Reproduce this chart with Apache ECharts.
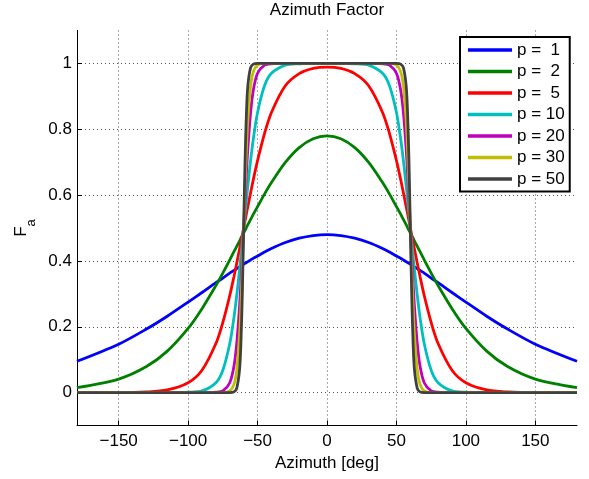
<!DOCTYPE html>
<html><head><meta charset="utf-8">
<script src="https://cdn.jsdelivr.net/npm/echarts@6/dist/echarts.min.js"></script>
<style>html,body{margin:0;padding:0;background:#fff}#c{width:589px;height:479px}</style>
</head><body><div id="c"></div>
<script>
const azimuth = [-180,-150,-130,-115,-100,-90,-80,-75,-70,-67,-65,-63,-62,-61,-60,-59,-58,-57,-55,-53,-50,-45,-40,-30,-20,-10,0,10,20,30,40,45,50,53,55,57,58,59,60,61,62,63,65,67,70,75,80,90,100,115,130,150,180];
const fa_p1 = [0.095,0.147,0.193,0.232,0.275,0.304,0.334,0.348,0.363,0.371,0.377,0.382,0.385,0.388,0.390,0.393,0.395,0.398,0.403,0.408,0.415,0.427,0.438,0.456,0.469,0.477,0.480,0.477,0.469,0.456,0.438,0.427,0.415,0.408,0.403,0.398,0.395,0.393,0.390,0.388,0.385,0.382,0.377,0.371,0.363,0.348,0.334,0.304,0.275,0.232,0.193,0.147,0.095];
const fa_p2 = [0.015,0.041,0.079,0.126,0.195,0.255,0.325,0.363,0.403,0.428,0.444,0.460,0.469,0.477,0.485,0.493,0.501,0.510,0.526,0.542,0.565,0.603,0.638,0.699,0.744,0.771,0.780,0.771,0.744,0.699,0.638,0.603,0.565,0.542,0.526,0.510,0.501,0.493,0.485,0.477,0.469,0.460,0.444,0.428,0.403,0.363,0.325,0.255,0.195,0.126,0.079,0.041,0.015];
const fa_p5 = [0,0,0.002,0.008,0.030,0.068,0.149,0.213,0.295,0.352,0.393,0.435,0.457,0.478,0.500,0.522,0.544,0.565,0.607,0.648,0.705,0.787,0.851,0.932,0.969,0.985,0.989,0.985,0.969,0.932,0.851,0.787,0.705,0.648,0.607,0.565,0.544,0.522,0.500,0.478,0.457,0.435,0.393,0.352,0.295,0.213,0.149,0.068,0.030,0.008,0.002,0,0];
const fa_p10 = [0,0,0,0,0.001,0.005,0.030,0.068,0.149,0.228,0.295,0.372,0.414,0.457,0.500,0.544,0.586,0.628,0.705,0.772,0.851,0.932,0.970,0.995,0.999,1.000,1.000,1.000,0.999,0.995,0.970,0.932,0.851,0.772,0.705,0.628,0.586,0.544,0.500,0.457,0.414,0.372,0.295,0.228,0.149,0.068,0.030,0.005,0.001,0,0,0,0];
const fa_p20 = [0,0,0,0,0,0,0.001,0.005,0.030,0.080,0.149,0.260,0.332,0.414,0.500,0.586,0.668,0.740,0.851,0.920,0.970,0.995,0.999,1,1,1,1,1,1,1,0.999,0.995,0.970,0.920,0.851,0.740,0.668,0.586,0.500,0.414,0.332,0.260,0.149,0.080,0.030,0.005,0.001,0,0,0,0,0,0];
const fa_p30 = [0,0,0,0,0,0,0,0,0.005,0.025,0.068,0.172,0.260,0.372,0.500,0.628,0.740,0.828,0.932,0.975,0.995,1,1,1,1,1,1,1,1,1,1,1,0.995,0.975,0.932,0.828,0.740,0.628,0.500,0.372,0.260,0.172,0.068,0.025,0.005,0,0,0,0,0,0,0,0];
const fa_p50 = [0,0,0,0,0,0,0,0,0,0.002,0.013,0.068,0.149,0.295,0.500,0.705,0.851,0.932,0.987,0.998,1,1,1,1,1,1,1,1,1,1,1,1,1,0.998,0.987,0.932,0.851,0.705,0.500,0.295,0.149,0.068,0.013,0.002,0,0,0,0,0,0,0,0,0];
const seriesNames = ['p =  1','p =  2','p =  5','p = 10','p = 20','p = 30','p = 50'];
const xTicks = [-150,-100,-50,0,50,100,150];
const yTicks = [0,0.2,0.4,0.6,0.8,1];

const FONT = 'Liberation Sans, Arial, Helvetica, sans-serif';
const colors = ['#0000ff','#008000','#ff0000','#00bfbf','#bf00bf','#bfbf00','#404040'];
const allValues = [fa_p1, fa_p2, fa_p5, fa_p10, fa_p20, fa_p30, fa_p50];

const series = allValues.map((vals, i) => ({
  name: seriesNames[i],
  type: 'line',
  showSymbol: false,
  symbol: 'none',
  smooth: 0.3,
  color: colors[i],
  lineStyle: { width: 2.8, color: colors[i] },
  data: azimuth.map((x, j) => [x, vals[j]])
}));

const chart = echarts.init(document.getElementById('c'), null, { renderer: 'canvas' });
chart.setOption({
  animation: false,
  backgroundColor: '#fff',
  title: {
    text: 'Azimuth Factor', left: 327, top: 2, textAlign: 'center', padding: 0,
    textStyle: { fontFamily: FONT, fontSize: 17, fontWeight: 'normal', color: '#000' }
  },
  grid: { left: 77, right: 12, top: 30.5, bottom: 53.5 },
  legend: {
    data: seriesNames, left: 460, top: 37, orient: 'vertical',
    padding: [4.5, 5, 4, 8], itemGap: 4.5, itemWidth: 44, itemHeight: 3.5, icon: 'rect',
    borderColor: '#000', borderWidth: 2, backgroundColor: '#fff',
    textStyle: { fontFamily: FONT, fontSize: 17, color: '#000' }
  },
  xAxis: {
    type: 'value', min: -180, max: 180,
    axisLine: { onZero: false, lineStyle: { color: '#000', width: 1 } },
    axisTick: { inside: true, length: 5, customValues: xTicks, lineStyle: { color: '#000' } },
    axisLabel: {
      customValues: xTicks, margin: 7, fontFamily: FONT, fontSize: 17, color: '#000',
      formatter: v => v < 0 ? '\u2212' + Math.abs(v) : String(v)
    },
    splitLine: { show: true, lineStyle: { type: [1, 3], color: '#555', width: 1 } },
    name: 'Azimuth [deg]', nameLocation: 'middle', nameGap: 25,
    nameTextStyle: { fontFamily: FONT, fontSize: 17, color: '#000' }
  },
  yAxis: {
    type: 'value', min: -0.1, max: 1.1,
    axisLine: { onZero: false, lineStyle: { color: '#000', width: 1 } },
    axisTick: { inside: true, length: 5, customValues: yTicks, lineStyle: { color: '#000' } },
    axisLabel: {
      customValues: yTicks, margin: 5, fontFamily: FONT, fontSize: 17, color: '#000',
      formatter: v => String(Math.round(v * 10) / 10)
    },
    splitLine: { show: true, lineStyle: { type: [1, 3], color: '#555', width: 1 } },
    name: '{f|F}{s|a}', nameLocation: 'middle', nameGap: 30,
    nameTextStyle: {
      fontFamily: FONT, color: '#000',
      rich: {
        f: { fontFamily: FONT, fontSize: 17, color: '#000', verticalAlign: 'top', lineHeight: 17 },
        s: { fontFamily: FONT, fontSize: 13, color: '#000', verticalAlign: 'top', lineHeight: 13, padding: [12, 0, 0, 0] }
      }
    }
  },
  series: series
});
</script></body></html>
